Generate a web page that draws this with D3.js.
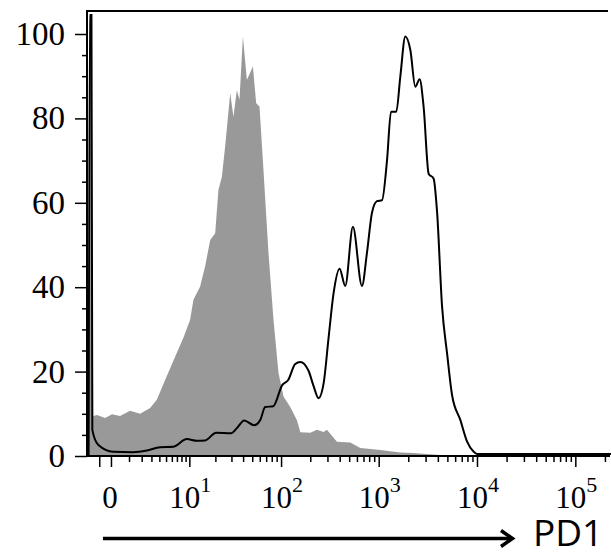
<!DOCTYPE html>
<html>
<head>
<meta charset="utf-8">
<script src="https://cdn.jsdelivr.net/npm/d3@7"></script>
<style>
  body { margin: 0; background: #fff; }
</style>
</head>
<body>
<div id="chart"></div>
<script>
// isotype control (grey filled) - PD1 intensity / % of max
const grayX = [-1.25, -1.08, -0.98, -0.73, -0.28, 0.05, 0.45, 1.07, 1.86, 2.85, 3.66, 4.85, 6.63, 8.46, 10.2, 11.2, 13.4, 15.3, 17.5, 19.9, 21.6, 23.6, 25.6, 29.1, 31.5, 34.3, 36.6, 39.8, 43.9, 50.8, 55.0, 59.6, 65.6, 74.0, 83.5, 94.0, 106, 124, 146, 158, 200, 234, 274, 296, 375, 513, 649, 1038, 1660, 2252, 4200, 10000, 250000];
const grayY = [104.5, 104.5, 9.5, 9.7, 9.0, 9.9, 9.5, 10.7, 10.0, 11.4, 13.3, 18.0, 23.5, 28.0, 32.2, 37.0, 40.1, 44.9, 51.2, 52.8, 63.0, 66.2, 73.3, 86.0, 80.4, 86.7, 84.4, 99.4, 89.1, 92.3, 83.6, 82.8, 67.8, 48.1, 32.2, 19.7, 14.1, 11.7, 8.5, 5.6, 5.5, 6.2, 5.7, 6.2, 3.4, 3.2, 1.9, 1.4, 0.8, 0.7, 0.24, 0, 0];

// PD1 stained sample (black line)
const blackX = [-1.30, -1.22, -1.10, -1.04, -0.65, 0.11, 1.29, 2.50, 4.10, 6.24, 9.32, 12.3, 15.3, 20.4, 29.8, 34.3, 41.1, 52.4, 60.6, 68.4, 82.9, 102.8, 118.6, 140, 158, 192, 216, 243, 274, 308, 346, 399, 456, 546, 675, 760, 855, 961, 1081, 1216, 1335, 1511, 1660, 1867, 2100, 2360, 2611, 2867, 3224, 3625, 3926, 4416, 4965, 5583, 6783, 7938, 9261, 10030, 250000];
const blackY = [0, 104.5, 104.5, 6.2, 2.6, 1.0, 0.9, 1.3, 2.1, 2.2, 4.0, 3.6, 3.7, 5.5, 5.4, 6.6, 8.4, 7.3, 8.5, 11.6, 11.8, 16.8, 18.0, 21.8, 22.3, 20.2, 16.6, 13.7, 17.2, 28.0, 38.5, 44.4, 40.3, 54.3, 40.3, 48.2, 57.7, 60.4, 60.6, 70.1, 81.6, 81.6, 89.9, 99.4, 96.2, 87.5, 89.3, 82.7, 66.9, 65.7, 57.9, 35.4, 24.3, 14.4, 8.5, 3.4, 1.0, 0.5, 0.5];

const yTicks = [0, 20, 40, 60, 80, 100];
const xTicks = [-0.6, 0, 10, 100, 1000, 10000, 100000];
const xLabelValues = [0, 10, 100, 1000, 10000, 100000];
const xLabelExp = ["", "1", "2", "3", "4", "5"];
const axisTitle = "PD1";

const width = 611, height = 553;

const svg = d3.select("#chart")
    .append("svg")
    .attr("width", width)
    .attr("height", height);

const x = d3.scaleSymlog()
    .constant(1.9)
    .domain([-1.43, 220000])
    .range([87, 609]);

const y = d3.scaleLinear()
    .domain([0, 100])
    .range([456, 34]);

svg.append("clipPath")
    .attr("id", "plotclip")
    .append("rect")
    .attr("x", 87)
    .attr("y", 11)
    .attr("width", 524)
    .attr("height", 445);

const grayData = grayX.map((d, i) => [d, grayY[i]]);
const blackData = blackX.map((d, i) => [d, blackY[i]]);

var area = d3.area()
    .x(d => x(d[0]))
    .y0(y(0))
    .y1(d => y(d[1]));

var line = d3.line()
    .x(d => x(d[0]))
    .y(d => y(d[1]))
    .curve(d3.curveMonotoneX);

svg.append("path")
    .datum(grayData)
    .attr("clip-path", "url(#plotclip)")
    .attr("fill", "#999999")
    .attr("d", area);

svg.append("path")
    .datum(blackData)
    .attr("clip-path", "url(#plotclip)")
    .attr("fill", "none")
    .attr("stroke", "#000")
    .attr("stroke-width", 2)
    .attr("d", line);

// y axis: major + minor ticks
var yMinor = d3.range(5, 100, 5).filter(v => v % 20 !== 0);

var yAxisG = svg.append("g")
    .attr("transform", "translate(87,0)")
    .call(d3.axisLeft(y).tickValues(yTicks).tickSize(12).tickFormat(""));
var yMinorG = svg.append("g")
    .attr("transform", "translate(87,0)")
    .call(d3.axisLeft(y).tickValues(yMinor).tickSize(5).tickFormat(""));

// x axis: major + minor ticks
var xMinor = [1];
[1, 10, 100, 1000, 10000].forEach(d => {
    for (var m = 2; m <= 9; m++) xMinor.push(m * d);
});
xMinor.push(200000);

var xAxisG = svg.append("g")
    .attr("transform", "translate(0,456)")
    .call(d3.axisBottom(x).tickValues(xTicks).tickSize(11).tickFormat(""));
var xMinorG = svg.append("g")
    .attr("transform", "translate(0,456)")
    .call(d3.axisBottom(x).tickValues(xMinor).tickSize(6).tickFormat(""));

[yAxisG, yMinorG, xAxisG, xMinorG].forEach(g => {
    g.select(".domain").remove();
    g.selectAll(".tick line").attr("stroke", "#000").attr("stroke-width", 1.5);
});

// frame
svg.append("line")
    .attr("x1", 87).attr("x2", 87)
    .attr("y1", 10).attr("y2", 457)
    .attr("stroke", "#000").attr("stroke-width", 2);
svg.append("line")
    .attr("x1", 86).attr("x2", 608)
    .attr("y1", 11).attr("y2", 11)
    .attr("stroke", "#000").attr("stroke-width", 2);
svg.append("line")
    .attr("x1", 86).attr("x2", 610)
    .attr("y1", 456).attr("y2", 456)
    .attr("stroke", "#000").attr("stroke-width", 2);

// y labels
svg.selectAll(".ylab")
    .data(yTicks)
    .enter()
    .append("text")
    .attr("class", "ylab")
    .attr("x", 65)
    .attr("y", d => y(d) + 11)
    .attr("text-anchor", "end")
    .style("font-family", "'Liberation Serif', 'DejaVu Serif', serif")
    .style("font-size", "33px")
    .text(d => d);

// x labels
var xLab = svg.selectAll(".xlab")
    .data(xLabelValues)
    .enter()
    .append("text")
    .attr("class", "xlab")
    .attr("x", d => x(d) + (d === 0 ? -1 : 1))
    .attr("y", 508)
    .attr("text-anchor", "middle")
    .style("font-family", "'Liberation Serif', 'DejaVu Serif', serif")
    .style("font-size", "31px");

xLab.each(function (d, i) {
    var t = d3.select(this);
    if (d === 0) {
        t.text("0");
    } else {
        t.append("tspan").text("10");
        t.append("tspan")
            .attr("dy", -16)
            .style("font-size", "22px")
            .text(xLabelExp[i]);
    }
});

// arrow + axis title
svg.append("line")
    .attr("x1", 103).attr("x2", 511)
    .attr("y1", 538.5).attr("y2", 538.5)
    .attr("stroke", "#000").attr("stroke-width", 3.5);
svg.append("path")
    .attr("d", "M501,530.5 L512.5,538.5 L501,546.5")
    .attr("fill", "none")
    .attr("stroke", "#000")
    .attr("stroke-width", 3.5);

svg.append("text")
    .attr("x", 533)
    .attr("y", 546)
    .style("font-family", "'Open Sans', 'Liberation Sans', sans-serif")
    .style("font-size", "37px")
    .text(axisTitle);
</script>
</body>
</html>
